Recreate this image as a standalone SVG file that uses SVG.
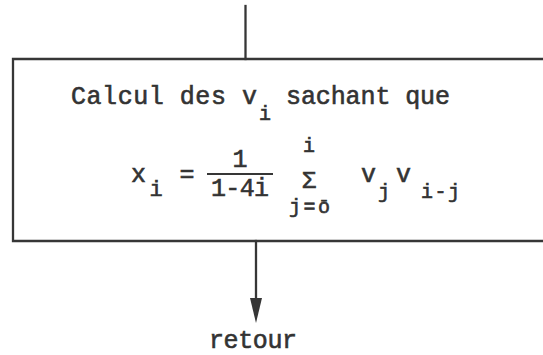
<svg xmlns="http://www.w3.org/2000/svg" width="543" height="355" viewBox="0 0 543 355">
  <style>
    .ln { stroke: #363636; stroke-width: 2.3; fill: none; stroke-linecap: square; }
    .t { font-family: "Liberation Mono", "DejaVu Sans Mono", monospace; fill: #333333; stroke: #333333; stroke-width: 0.6; font-size: 25px; }
    .s { font-size: 20px; }
    .m { text-anchor: middle; }
  </style>
  <rect width="543" height="355" fill="#ffffff"/>

  <g id="connectors">
    <line class="ln" x1="245.5" y1="6" x2="245.5" y2="59"/>
    <line class="ln" x1="256" y1="241" x2="256" y2="300"/>
    <polygon points="250,298 262,298 256,323" fill="#363636"/>
  </g>

  <g id="node-calcul">
    <path class="ln" d="M543,59 H13 V241 H543"/>
    <text class="t" x="71" y="104" textLength="186" lengthAdjust="spacing">Calcul des v</text>
    <text class="t s m" x="265" y="120">i</text>
    <text class="t" x="286" y="104" textLength="164" lengthAdjust="spacing">sachant que</text>

    <text class="t" x="131" y="182">x</text>
    <text class="t m" x="156" y="196" style="font-size:22px">i</text>
    <text class="t m" x="187" y="182">=</text>
    <line class="ln" x1="208" y1="174" x2="272" y2="174" style="stroke-width:2"/>
    <text class="t m" x="240" y="167">1</text>
    <text class="t" x="211" y="196" textLength="58" lengthAdjust="spacing">1-4i</text>
    <text class="t s m" x="309" y="152">i</text>
    <text class="t m" x="309" y="188" style="font-size:24px">Σ</text>
    <text class="t s" x="289" y="213" textLength="41" lengthAdjust="spacing">j=ō</text>
    <text class="t" x="361" y="182">v</text>
    <text class="t s m" x="384" y="198">j</text>
    <text class="t" x="396" y="182">v</text>
    <text class="t s" x="421" y="198" textLength="39" lengthAdjust="spacing">i-j</text>
  </g>

  <g id="node-retour">
    <text class="t" x="209" y="348" textLength="88" lengthAdjust="spacing">retour</text>
  </g>
</svg>
